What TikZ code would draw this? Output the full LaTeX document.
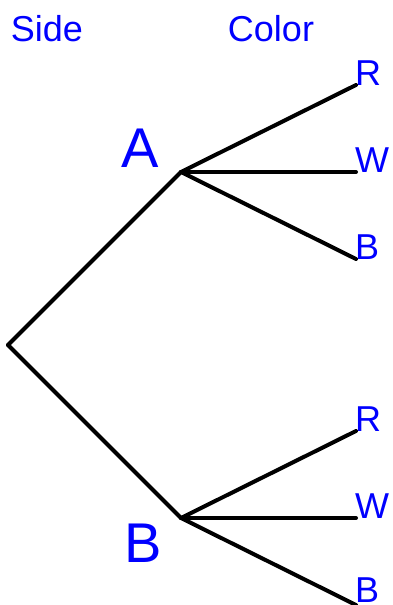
\documentclass[tikz,border=0pt]{standalone}
\usepackage{fontspec}
\setmainfont{Liberation Sans}
\usepackage{xcolor}
\usepackage{tikz}
\usetikzlibrary{positioning, calc}
\definecolor{labelBlue}{RGB}{0,0,255}
\tikzset{
  branchLine/.style={line width=4pt, draw=black, line cap=round, line join=round},
  headLabel/.style={text=labelBlue, inner sep=0pt, anchor=base, font=\fontsize{36}{40}\selectfont},
  sideLabel/.style={text=labelBlue, inner sep=0pt, anchor=base east, font=\fontsize{56}{60}\selectfont},
  colorLabel/.style={text=labelBlue, inner sep=0pt, anchor=base west, xshift=-1pt, font=\fontsize{36}{40}\selectfont}
}

\begin{document}
\begin{tikzpicture}[x=1pt, y=-1pt]
  \useasboundingbox (0,0) rectangle (392,605);

  % column heads
  \node[headLabel] (sideHead) at (47,41) {Side};
  \node[headLabel] (colorHead) at (271,41) {Color};

  % tree points
  \coordinate (root) at (8,345);
  \coordinate (sideA) at (181,172);
  \coordinate (sideB) at (181,518);
  \coordinate (aR) at (356,85);
  \coordinate (aW) at (356,172);
  \coordinate (aB) at (356,259);
  \coordinate (bR) at (356,431);
  \coordinate (bW) at (356,518);
  \coordinate (bB) at (356,605);

  \node[sideLabel] (labelA) at (159,167) {A};
  \node[sideLabel] (labelB) at (162,562) {B};

  \draw[branchLine] (root) -- (sideA);
  \draw[branchLine] (root) -- (sideB);
  \draw[branchLine] (sideA) -- (aR);
  \draw[branchLine] (sideA) -- (aW);
  \draw[branchLine] (sideA) -- (aB);
  \draw[branchLine] (sideB) -- (bR);
  \draw[branchLine] (sideB) -- (bW);
  \draw[branchLine] (sideB) -- (bB);

  \node[colorLabel] (textAR) at (aR) {R};
  \node[colorLabel] (textAW) at (aW) {W};
  \node[colorLabel] (textAB) at (aB) {B};
  \node[colorLabel] (textBR) at (bR) {R};
  \node[colorLabel] (textBW) at (bW) {W};
  \node[colorLabel] (textBB) at ($(bB)+(0,-3)$) {B};
\end{tikzpicture}
\end{document}
